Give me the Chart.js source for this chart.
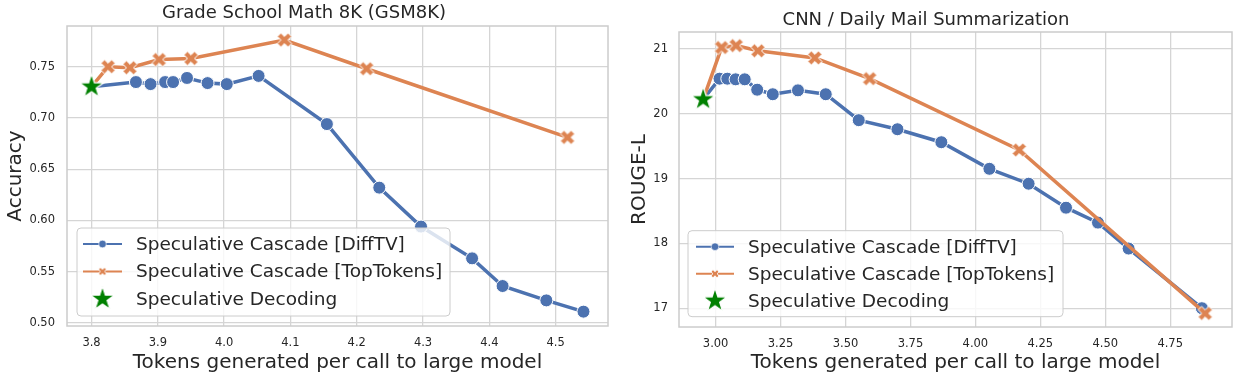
<!DOCTYPE html>
<html><head><meta charset="utf-8">
<script src="https://cdn.jsdelivr.net/npm/chart.js@4"></script>
<style>
html,body{margin:0;padding:0;background:#fff;}
#wrap{position:relative;width:1245px;height:377px;overflow:hidden;}
canvas{position:absolute;top:0;}
</style></head><body>
<div id="wrap">
<canvas id="c1" width="620" height="377" style="left:0"></canvas>
<canvas id="c2" width="625" height="377" style="left:620px"></canvas>
</div>
<script>
// ---------------- DATA ----------------
const seriesNames = ['Speculative Cascade [DiffTV]', 'Speculative Cascade [TopTokens]', 'Speculative Decoding'];

// Left: Grade School Math 8K (GSM8K)
const gsmTitle = 'Grade School Math 8K (GSM8K)';
const gsmYLabel = 'Accuracy';
const gsmDiffX = [3.800, 3.867, 3.889, 3.911, 3.923, 3.944, 3.975, 4.004, 4.052, 4.155, 4.234, 4.297, 4.374, 4.420, 4.486, 4.542];
const gsmDiffY = [0.7305, 0.735, 0.733, 0.735, 0.735, 0.739, 0.734, 0.733, 0.741, 0.694, 0.632, 0.594, 0.563, 0.536, 0.522, 0.511];
const gsmTopX = [3.800, 3.825, 3.858, 3.902, 3.950, 4.091, 4.215, 4.518];
const gsmTopY = [0.7305, 0.750, 0.749, 0.757, 0.758, 0.776, 0.748, 0.681];
const gsmSpecX = [3.800];
const gsmSpecY = [0.7305];
const gsmXTicks = [3.8, 3.9, 4.0, 4.1, 4.2, 4.3, 4.4, 4.5];
const gsmYTicks = [0.50, 0.55, 0.60, 0.65, 0.70, 0.75];

// Right: CNN / Daily Mail Summarization
const cnnTitle = 'CNN / Daily Mail Summarization';
const cnnYLabel = 'ROUGE-L';
const cnnDiffX = [2.952, 3.015, 3.045, 3.077, 3.112, 3.160, 3.220, 3.317, 3.424, 3.551, 3.700, 3.869, 4.054, 4.205, 4.349, 4.472, 4.590, 4.872];
const cnnDiffY = [20.22, 20.54, 20.54, 20.53, 20.53, 20.37, 20.30, 20.36, 20.30, 19.90, 19.76, 19.56, 19.15, 18.92, 18.55, 18.32, 17.92, 17.00];
const cnnTopX = [2.952, 3.023, 3.079, 3.163, 3.382, 3.593, 4.169, 4.885];
const cnnTopY = [20.22, 21.02, 21.05, 20.97, 20.86, 20.54, 19.44, 16.92];
const cnnSpecX = [2.952];
const cnnSpecY = [20.22];
const cnnXTicks = [3.00, 3.25, 3.50, 3.75, 4.00, 4.25, 4.50, 4.75];
const cnnYTicks = [17, 18, 19, 20, 21];

const xLabel = 'Tokens generated per call to large model';

// ---------------- STYLE ----------------
const FONT = "'DejaVu Sans', sans-serif";
const TXT = '#262626';
const BLUE = '#4c72b0';
const ORANGE = '#dd8452';
const GREEN = '#008000';
const GRID = '#d5d5d5';
const SPINE = '#cccccc';

function mk(size, draw) {
  const c = document.createElement('canvas');
  c.width = c.height = size;
  const g = c.getContext('2d');
  g.translate(size / 2, size / 2);
  draw(g);
  return c;
}
function xPath(g, ms) {
  const pts = [[-1,-3],[1,-3],[1,-1],[3,-1],[3,1],[1,1],[1,3],[-1,3],[-1,1],[-3,1],[-3,-1],[-1,-1]];
  const a = Math.PI / 4;
  g.beginPath();
  pts.forEach(([px, py], i) => {
    const x = px / 6 * ms, y = py / 6 * ms;
    const rx = x * Math.cos(a) - y * Math.sin(a), ry = x * Math.sin(a) + y * Math.cos(a);
    i ? g.lineTo(rx, ry) : g.moveTo(rx, ry);
  });
  g.closePath();
}
function starPath(g, R) {
  const r = R * 0.381966;
  g.beginPath();
  for (let i = 0; i < 10; i++) {
    const rr = i % 2 ? r : R;
    const a = -Math.PI / 2 + i * Math.PI / 5;
    const x = rr * Math.cos(a), y = rr * Math.sin(a);
    i ? g.lineTo(x, y) : g.moveTo(x, y);
  }
  g.closePath();
}
const xMarker = mk(20, g => { xPath(g, 15); g.fillStyle = ORANGE; g.fill(); g.strokeStyle = '#fff'; g.lineWidth = 1; g.stroke(); });
const xMarkerSmall = mk(12, g => { xPath(g, 8.5); g.fillStyle = ORANGE; g.fill(); g.strokeStyle = '#fff'; g.lineWidth = 0.8; g.stroke(); });
const starMarker = mk(30, g => { starPath(g, 12.8); g.fillStyle = GREEN; g.fill(); g.strokeStyle = '#fff'; g.lineWidth = 1.2; g.stroke(); });

function pts(xs, ys) { return xs.map((x, i) => ({ x: x, y: ys[i] })); }

const framePlugin = {
  id: 'frame',
  beforeDatasetsDraw(chart) {
    const a = chart.chartArea, ctx = chart.ctx;
    ctx.save();
    ctx.strokeStyle = SPINE; ctx.lineWidth = 1.5;
    ctx.strokeRect(a.left, a.top, a.right - a.left, a.bottom - a.top);
    ctx.restore();
  }
};

function roundRect(ctx, x, y, w, h, r) {
  ctx.beginPath();
  ctx.moveTo(x + r, y);
  ctx.lineTo(x + w - r, y); ctx.quadraticCurveTo(x + w, y, x + w, y + r);
  ctx.lineTo(x + w, y + h - r); ctx.quadraticCurveTo(x + w, y + h, x + w - r, y + h);
  ctx.lineTo(x + r, y + h); ctx.quadraticCurveTo(x, y + h, x, y + h - r);
  ctx.lineTo(x, y + r); ctx.quadraticCurveTo(x, y, x + r, y);
  ctx.closePath();
}

const boxLegend = {
  id: 'boxLegend',
  afterDatasetsDraw(chart, args, o) {
    const ctx = chart.ctx;
    ctx.save();
    roundRect(ctx, o.x, o.y, o.w, o.h, 4);
    ctx.fillStyle = 'rgba(255,255,255,0.8)'; ctx.fill();
    ctx.strokeStyle = '#cccccc'; ctx.lineWidth = 1; ctx.stroke();
    seriesNames.forEach((name, i) => {
      const y = o.y + o.row0 + i * o.gap;
      const x0 = o.x + o.lx0, x1 = o.x + o.lx1, xm = (x0 + x1) / 2;
      if (i < 2) {
        ctx.strokeStyle = i === 0 ? BLUE : ORANGE; ctx.lineWidth = 2;
        ctx.beginPath(); ctx.moveTo(x0, y); ctx.lineTo(x1, y); ctx.stroke();
        if (i === 0) {
          ctx.beginPath(); ctx.arc(xm, y, 3.8, 0, Math.PI * 2);
          ctx.fillStyle = BLUE; ctx.fill(); ctx.strokeStyle = '#fff'; ctx.lineWidth = 0.6; ctx.stroke();
        } else {
          ctx.drawImage(xMarkerSmall, xm - 6, y - 6);
        }
      } else {
        ctx.drawImage(starMarker, xm - 15, y - 15);
      }
      ctx.fillStyle = TXT;
      ctx.font = '18.5px ' + FONT;
      ctx.textAlign = 'left'; ctx.textBaseline = 'middle';
      ctx.fillText(name, o.x + o.tx, y + 1);
    });
    ctx.restore();
  }
};

function build(canvas, cfg) {
  return new Chart(canvas, {
    type: 'line',
    data: {
      datasets: [
        { label: seriesNames[2], data: pts(cfg.specX, cfg.specY), order: 0, showLine: false,
          pointStyle: starMarker, pointRadius: 10, borderColor: GREEN, backgroundColor: GREEN },
        { label: seriesNames[1], data: pts(cfg.topX, cfg.topY), order: 1, borderColor: ORANGE, borderWidth: 3.5,
          pointStyle: xMarker, pointRadius: c => c.dataIndex === 0 ? 0 : 6, tension: 0, fill: false },
        { label: seriesNames[0], data: pts(cfg.diffX, cfg.diffY), order: 2, borderColor: BLUE, borderWidth: 3.5,
          backgroundColor: BLUE, pointBackgroundColor: BLUE, pointBorderColor: '#fff', pointBorderWidth: 1,
          pointStyle: 'circle', pointRadius: c => c.dataIndex === 0 ? 0 : 6.5, tension: 0, fill: false }
      ]
    },
    options: {
      responsive: false, animation: false, events: [],
      layout: { padding: { left: 0, right: cfg.padRight, top: 0, bottom: 0 } },
      plugins: {
        legend: { display: false }, tooltip: { enabled: false },
        title: { display: true, text: cfg.title, color: TXT, font: { family: FONT, size: 18, weight: 'normal' },
                 padding: { top: cfg.titleTop, bottom: cfg.titleBottom } },
        boxLegend: cfg.legend
      },
      scales: {
        x: {
          type: 'linear', min: cfg.xmin, max: cfg.xmax,
          afterBuildTicks: s => { s.ticks = cfg.xTicks.map(v => ({ value: v })); },
          afterFit: s => { s.height = cfg.xH; },
          ticks: { callback: v => v.toFixed(cfg.xDec), color: TXT, font: { family: FONT, size: 11.5 }, padding: cfg.xTickPad, autoSkip: false, maxRotation: 0 },
          grid: { color: GRID, lineWidth: 1.3, drawTicks: false },
          border: { display: false },
          title: { display: true, text: xLabel, color: TXT, font: { family: FONT, size: 20 }, padding: { top: 0, bottom: cfg.xTitlePad } }
        },
        y: {
          type: 'linear', min: cfg.ymin, max: cfg.ymax,
          afterBuildTicks: s => { s.ticks = cfg.yTicks.map(v => ({ value: v })); },
          afterFit: s => { s.width = cfg.yW; },
          ticks: { callback: v => v.toFixed(cfg.yDec), color: TXT, font: { family: FONT, size: 11.5 }, padding: cfg.yTickPad, autoSkip: false },
          grid: { color: GRID, lineWidth: 1.3, drawTicks: false },
          border: { display: false },
          title: { display: true, text: cfg.yLabel, color: TXT, font: { family: FONT, size: 20 }, padding: { top: cfg.yTitlePad, bottom: 0 } }
        }
      }
    },
    plugins: [framePlugin, boxLegend]
  });
}

build(document.getElementById('c1'), {
  title: gsmTitle, yLabel: gsmYLabel,
  diffX: gsmDiffX, diffY: gsmDiffY, topX: gsmTopX, topY: gsmTopY, specX: gsmSpecX, specY: gsmSpecY,
  xTicks: gsmXTicks, yTicks: gsmYTicks, xDec: 1, yDec: 2,
  xmin: 3.763, xmax: 4.579, ymin: 0.497, ymax: 0.7897,
  padRight: 12, titleTop: 2.5, titleBottom: 1.9, xH: 51, yW: 67,
  xTickPad: 10.5, yTickPad: 12, xTitlePad: 2, yTitlePad: 4,
  legend: { x: 77, y: 228, w: 373, h: 88, row0: 16, gap: 27.5, lx0: 6, lx1: 45, tx: 59 }
});

build(document.getElementById('c2'), {
  title: cnnTitle, yLabel: cnnYLabel,
  diffX: cnnDiffX, diffY: cnnDiffY, topX: cnnTopX, topY: cnnTopY, specX: cnnSpecX, specY: cnnSpecY,
  xTicks: cnnXTicks, yTicks: cnnYTicks, xDec: 2, yDec: 0,
  xmin: 2.859, xmax: 4.988, ymin: 16.71, ymax: 21.26,
  padRight: 13, titleTop: 9.3, titleBottom: 1.1, xH: 50, yW: 59,
  xTickPad: 10.5, yTickPad: 11, xTitlePad: 2, yTitlePad: 8,
  legend: { x: 68, y: 230.7, w: 375, h: 86, row0: 16, gap: 27, lx0: 8, lx1: 46, tx: 60 }
});
</script>
</body></html>
